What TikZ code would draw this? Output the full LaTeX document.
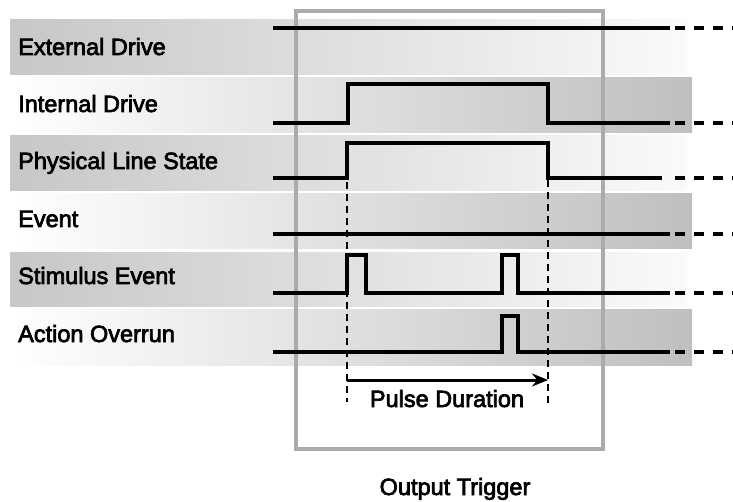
\documentclass[tikz,border=0pt]{standalone}
\usepackage{fontspec}
\newfontfamily\lblfont[FakeBold=3]{Liberation Sans}
\usetikzlibrary{arrows.meta}
\begin{document}
\begin{tikzpicture}[x=1pt,y=-1pt,
  sig/.style={line width=3.6pt, line cap=butt, line join=miter},
  ext/.style={line width=3.6pt, dash pattern=on 10pt off 9pt},
  darkband/.style={left color=black!22, right color=black!2, draw=none},
  lightband/.style={left color=white, right color=black!25, draw=none},
  lbl/.style={anchor=base west, inner sep=0pt, font=\lblfont\fontsize{23.5}{26}\selectfont},
  ctext/.style={anchor=base, inner sep=0pt, font=\lblfont\fontsize{23.5}{26}\selectfont},
  frame/.style={draw=black!33, line width=3.2pt},
  guide/.style={line width=2.4pt, dash pattern=on 7pt off 5pt},
  arr/.style={line width=3pt, -{Stealth[length=16pt,width=13pt]}}
]
\useasboundingbox (0,0) rectangle (733,502);
% bands
\fill[darkband]  (10,20)  rectangle (687,75);
\fill[lightband] (10,78)  rectangle (692,133);
\fill[darkband]  (10,136) rectangle (687,191);
\fill[lightband] (10,194) rectangle (692,249);
\fill[darkband]  (10,253) rectangle (687,307);
\fill[lightband] (10,310) rectangle (692,365);
% frame
\draw[frame] (296,11) rectangle (603,449);
% labels
\node[lbl] (lext)  at (18,55)  {External Drive};
\node[lbl] (lint)  at (18,112) {Internal Drive};
\node[lbl] (lphys) at (18,169) {Physical Line State};
\node[lbl] (levt)  at (18,227) {Event};
\node[lbl] (lstim) at (18,284) {Stimulus Event};
\node[lbl] (lact)  at (18,342) {Action Overrun};
% signals
\draw[sig] (273,28) -- (670,28);
\draw[ext] (675,28) -- (733,28);
\draw[sig] (273,123) -- (348,123) -- (348,84) -- (548,84) -- (548,123) -- (670,123);
\draw[ext] (675,123) -- (733,123);
\draw[sig] (273,178) -- (347,178) -- (347,143) -- (548,143) -- (548,178) -- (662,178);
\draw[ext] (675,178) -- (733,178);
\draw[sig] (273,234) -- (670,234);
\draw[ext] (675,234) -- (733,234);
\draw[sig] (273,293) -- (347,293) -- (347,255) -- (366,255) -- (366,293) -- (502,293) -- (502,255) -- (518,255) -- (518,293) -- (670,293);
\draw[ext] (675,293) -- (733,293);
\draw[sig] (273,352) -- (502,352) -- (502,316) -- (518,316) -- (518,352) -- (670,352);
\draw[ext] (675,352) -- (733,352);
% guides
\coordinate (gA1) at (347,182);
\coordinate (gA2) at (347,402);
\coordinate (gB1) at (548,180);
\coordinate (gB2) at (548,403);
\coordinate (aS) at (347,380);
\coordinate (aE) at (548,380);
\draw[guide] (gA1) -- (gA2);
\draw[guide] (gB1) -- (gB2);
\draw[arr] (aS) -- (aE);
\node[ctext] (pd) at (447,407) {Pulse Duration};
\node[ctext] (ot) at (455,495) {Output Trigger};
\end{tikzpicture}
\end{document}
